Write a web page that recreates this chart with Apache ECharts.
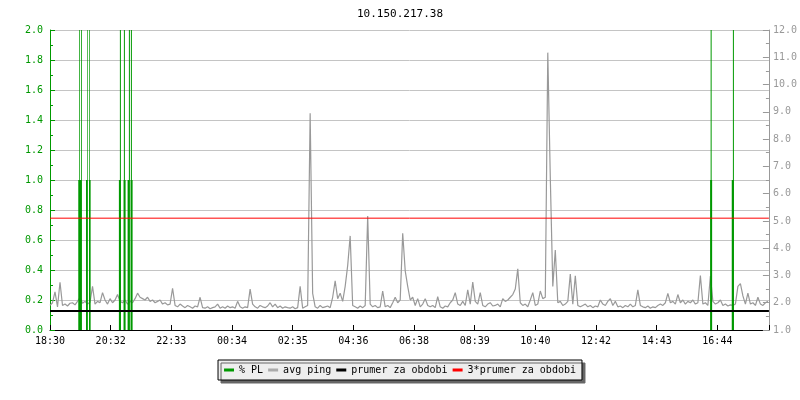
<!DOCTYPE html>
<html>
<head>
<meta charset="utf-8">
<script src="https://cdn.jsdelivr.net/npm/echarts@6/dist/echarts.min.js"></script>
<style>
html,body{margin:0;padding:0;background:#fff;}
#chart{width:800px;height:400px;}
</style>
</head>
<body>
<div id="chart"></div>
<script>
// ---- data ----
const chartTitle = '10.150.217.38';
// x axis: minutes after 18:30, labels every ~121.27 minutes
const xMaxMin = 1437;
const xTickStep = 121.27;
const xTickLabels = ['18:30','20:32','22:33','00:34','02:35','04:36','06:38','08:39','10:40','12:42','14:43','16:44'];
// avg ping samples, one every 5 minutes, right axis (ms)
const pingStepMin = 5;
const avgPing = [
1.9, 2.0, 2.4, 1.85, 2.75, 1.9, 1.95, 1.88, 1.98, 2.0,
1.92, 2.05, 2.2, 1.98, 2.05, 1.95, 2.02, 2.6, 1.95, 2.05,
2.0, 2.37, 2.1, 1.95, 2.15, 2.0, 2.1, 2.3, 2.05, 2.0,
2.1, 1.95, 2.05, 2.0, 2.15, 2.35, 2.2, 2.15, 2.1, 2.2,
2.05, 2.1, 2.0, 2.05, 2.1, 1.95, 2.0, 1.92, 1.95, 2.53,
1.9, 1.85, 1.95, 1.88, 1.82, 1.9, 1.85, 1.8, 1.88, 1.85,
2.2, 1.82, 1.8, 1.85, 1.78, 1.82, 1.85, 1.95, 1.8, 1.85,
1.8, 1.88, 1.82, 1.85, 1.8, 2.05, 1.85, 1.8, 1.85, 1.82,
2.5, 1.95, 1.85, 1.8, 1.9, 1.85, 1.82, 1.88, 2.0, 1.85,
1.95, 1.82, 1.88, 1.8, 1.85, 1.82,
1.8, 1.85, 1.78, 1.82, 2.6, 1.8, 1.85, 1.9, 8.95, 2.34,
1.85, 1.8, 1.9, 1.82, 1.85, 1.88, 1.82, 2.2, 2.8, 2.15,
2.35, 2.05, 2.6, 3.36, 4.45, 1.9, 1.85, 1.8, 1.88, 1.82,
1.9, 5.18, 1.95, 1.85, 1.9, 1.82, 1.85, 2.43, 1.85, 1.9,
1.82, 2.0, 2.2, 2.0, 2.1, 4.55, 3.17, 2.6, 2.1, 2.2,
1.9, 2.15, 1.85, 1.95, 2.15, 1.9, 1.85, 1.9, 1.82, 2.22,
1.85, 1.8, 1.88, 1.85, 2.0, 2.1, 2.37, 1.95, 1.9, 2.05,
1.9, 2.47, 1.95, 2.76, 2.05, 1.95, 2.37, 1.9, 1.85, 1.95,
2.0, 1.88, 1.9, 1.95, 1.85, 2.15, 2.05, 2.1, 2.2, 2.3,
2.5, 3.24, 2.0, 1.9, 1.95, 1.85,
2.1, 2.37, 1.9, 1.95, 2.43, 2.15, 2.2, 11.17, 6.6, 2.6,
3.93, 2.0, 2.05, 1.9, 1.95, 2.05, 3.05, 1.95, 2.99, 1.9,
1.85, 1.9, 1.95, 1.85, 1.9, 1.82, 1.88, 1.85, 2.1, 1.95,
1.9, 2.05, 2.15, 1.9, 2.05, 1.85, 1.88, 1.82, 1.9, 1.85,
1.95, 1.85, 1.9, 2.47, 1.9, 1.85, 1.82, 1.88, 1.8, 1.85,
1.82, 1.9, 1.95, 1.9, 2.0, 2.34, 2.0, 2.05, 1.95, 2.3,
2.0, 2.1, 1.95, 2.05, 2.0, 2.1, 1.95, 2.0, 3.0, 1.95,
2.0, 1.9, 2.98, 2.05, 1.95, 2.0, 2.1, 1.9, 1.95, 1.88,
1.92, 1.9, 1.95, 2.6, 2.7, 2.25, 1.95, 2.35, 1.95, 2.0,
1.9, 2.2, 1.95, 1.9, 2.0, 2.05
];
// packet loss intervals (minutes) and value, left axis (%)
const plStartMin = [56.5, 58.5, 62.3, 72.0, 74.5, 78.0, 78.4, 137.7, 139.7, 147.1, 147.7, 155.1, 157.7, 161.1, 161.7, 1319.5, 1320.5, 1362.7, 1365.0];
const plEndMin   = [63.3, 60.0, 63.9, 75.2, 75.8, 81.2, 79.8, 141.7, 141.7, 151.1, 149.7, 158.3, 159.7, 165.1, 163.7, 1323.5, 1322.5, 1366.7, 1367.0];
const plValue    = [1.0, 100, 100, 1.0, 100, 1.0, 100, 1.0, 100, 1.0, 100, 1.0, 100, 1.0, 100, 1.0, 100, 1.0, 100];
const meanPing = 1.7;
const tripleMeanPing = 5.1;
const legendNames = ['% PL', 'avg ping', 'prumer za obdobi', '3*prumer za obdobi'];

// ---- styles ----
const MONO = "'DejaVu Sans Mono', monospace";
const GREEN = '#009900';
const GRAY = '#999999';
const GRID = '#c4c4c4';

const pingData = avgPing.map((v, i) => [i * pingStepMin, v]);
const plData = plStartMin.map((s, i) => [s, plEndMin[i], plValue[i]]);

const chart = echarts.init(document.getElementById('chart'), null, {renderer: 'canvas'});
chart.setOption({
  animation: false,
  backgroundColor: '#ffffff',
  title: {
    text: chartTitle, left: 'center', top: 4,
    textStyle: {fontFamily: MONO, fontSize: 11, fontWeight: 'normal', color: '#000'}
  },
  legend: {
    top: 360, left: 'center',
    icon: 'rect', itemWidth: 10, itemHeight: 3, itemGap: 5,
    padding: [5, 6, 5, 6],
    backgroundColor: '#eeeeee', borderColor: '#000', borderWidth: 1,
    shadowColor: '#666666', shadowOffsetX: 3, shadowOffsetY: 3, shadowBlur: 0,
    selectedMode: false,
    textStyle: {fontFamily: MONO, fontSize: 10, color: '#000'},
    data: [
      {name: legendNames[0], itemStyle: {color: GREEN}},
      {name: legendNames[1], itemStyle: {color: '#aaaaaa'}},
      {name: legendNames[2], itemStyle: {color: '#000'}},
      {name: legendNames[3], itemStyle: {color: '#ff0000'}}
    ]
  },
  grid: {left: 50, right: 30, top: 30, bottom: 70, containLabel: false},
  xAxis: {
    type: 'value', min: 0, max: xMaxMin, interval: xTickStep,
    axisLine: {show: true, onZero: false, lineStyle: {color: '#000', width: 1}},
    axisTick: {show: true, inside: true, length: 5, lineStyle: {color: '#000'}},
    axisLabel: {
      fontFamily: MONO, fontSize: 10, color: '#000', margin: 6,
      formatter: function (v) {
        const k = Math.round(v / xTickStep);
        if (Math.abs(v - k * xTickStep) > 0.5) return '';
        return xTickLabels[k] || '';
      }
    },
    splitLine: {show: false}
  },
  yAxis: [
    {
      type: 'value', min: 0, max: 2, interval: 0.2, position: 'left',
      axisLine: {show: true, lineStyle: {color: GREEN}},
      axisTick: {show: true, inside: true, length: 5, lineStyle: {color: GREEN}},
      minorTick: {show: true, splitNumber: 2, length: 3, lineStyle: {color: GREEN}},
      axisLabel: {fontFamily: MONO, fontSize: 10, color: GREEN, margin: 7, formatter: v => v.toFixed(1)},
      splitLine: {show: true, lineStyle: {color: GRID, width: 1}}
    },
    {
      type: 'value', min: 1, max: 12, interval: 1, position: 'right',
      axisLine: {show: true, lineStyle: {color: GRAY}},
      axisTick: {show: true, inside: true, length: 6, lineStyle: {color: GRAY}},
      minorTick: {show: true, splitNumber: 2, length: 3, lineStyle: {color: GRAY}},
      axisLabel: {fontFamily: MONO, fontSize: 10, color: GRAY, margin: 4, formatter: v => v.toFixed(1)},
      splitLine: {show: false}
    }
  ],
  series: [
    {
      name: legendNames[1], type: 'line', yAxisIndex: 1,
      data: pingData, showSymbol: false, symbol: 'none', z: 2,
      lineStyle: {color: GRAY, width: 1.2}, itemStyle: {color: GRAY}
    },
    {
      name: legendNames[0], type: 'custom', yAxisIndex: 0, z: 3,
      itemStyle: {color: GREEN},
      encode: {x: [0, 1], y: 2},
      data: plData,
      renderItem: function (params, api) {
        const p0 = api.coord([api.value(0), 0]);
        const p1 = api.coord([api.value(1), api.value(2)]);
        const cs = params.coordSys;
        const rect = echarts.graphic.clipRectByRect(
          {x: p0[0], y: p1[1], width: p1[0] - p0[0], height: p0[1] - p1[1]},
          {x: cs.x, y: cs.y, width: cs.width, height: cs.height}
        );
        return rect && {type: 'rect', shape: rect, style: {fill: GREEN}};
      }
    },
    {
      name: legendNames[2], type: 'line', yAxisIndex: 1, z: 4,
      data: [[0, meanPing], [xMaxMin, meanPing]], showSymbol: false, symbol: 'none',
      lineStyle: {color: '#000', width: 2}, itemStyle: {color: '#000'}
    },
    {
      name: legendNames[3], type: 'line', yAxisIndex: 1, z: 5,
      data: [[0, tripleMeanPing], [xMaxMin, tripleMeanPing]], showSymbol: false, symbol: 'none',
      lineStyle: {color: '#ff0000', width: 1}, itemStyle: {color: '#ff0000'}
    }
  ]
});
</script>
</body>
</html>
